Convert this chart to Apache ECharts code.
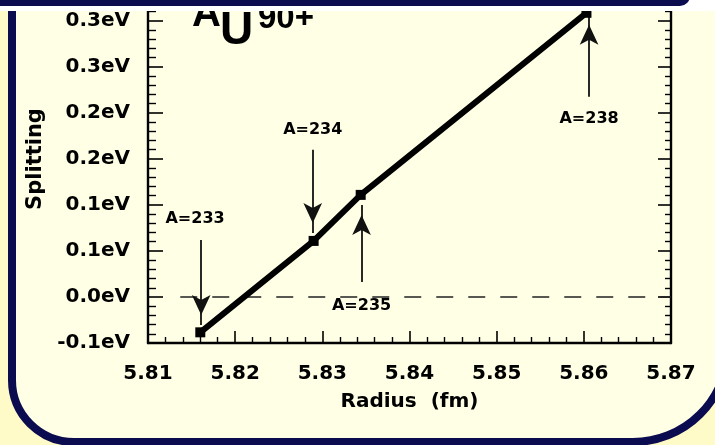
<!DOCTYPE html>
<html>
<head>
<meta charset="utf-8">
<script src="https://cdn.jsdelivr.net/npm/echarts@6/dist/echarts.min.js"></script>
<style>
html,body{margin:0;padding:0;background:#FFFBC8;}
#chart{width:715px;height:445px;}
</style>
</head>
<body>
<div id="chart"></div>
<script>
// Data
const radius = [5.816, 5.829, 5.8344, 5.8603];          // fm
const splitting = [-0.0384, 0.0609, 0.1109, 0.3087];   // eV
const zeroLineX = [5.8137, 5.87];
const zeroLineY = [0, 0];

const arrowNames = ['A=233', 'A=234', 'A=235', 'A=238'];
const arrowX = [5.8161, 5.8289, 5.8345, 5.8606];
const arrowFrom = [0.062, 0.1598, 0.0163, 0.2174];
const arrowTo = [-0.0304, 0.0696, 0.1, 0.3065];
const labelX = [5.8154, 5.8289, 5.8345, 5.8606];
const labelY = [0.0853, 0.1815, -0.0098, 0.1935];

const xTickLabels = ['5.81', '5.82', '5.83', '5.84', '5.85', '5.86', '5.87'];
const yTickLabels = ['-0.1eV', '0.0eV', '0.1eV', '0.1eV', '0.2eV', '0.2eV', '0.3eV', '0.3eV'];

const xMin = 5.81, xMax = 5.87, xStep = 0.01;
const yMin = -0.05, yMax = 0.315, yStep = 0.05;

function tickLabel(labels, min, step) {
  return function (v) {
    const i = Math.round((v - min) / step);
    if (Math.abs(v - (min + i * step)) > step * 1e-3) return '';
    return labels[i] !== undefined ? labels[i] : '';
  };
}

const navy = '#0B0B4F';
const tickFont = 'DejaVu Sans';

const chart = echarts.init(document.getElementById('chart'));
chart.setOption({
  backgroundColor: '#FFFBC8',
  animation: false,
  grid: { left: 148, right: 44, top: 7, bottom: 102, containLabel: false },
  xAxis: {
    type: 'value', min: xMin, max: xMax, interval: xStep,
    name: 'Radius  (fm)', nameLocation: 'middle', nameGap: 49,
    nameTextStyle: { fontFamily: tickFont, fontWeight: 'bold', fontSize: 20, color: '#000' },
    axisLine: { show: true, onZero: false, lineStyle: { color: '#000', width: 2.4 } },
    axisTick: { show: true, inside: true, length: 12, lineStyle: { color: '#000', width: 1.6 } },
    minorTick: { show: true, splitNumber: 5, length: 6, lineStyle: { color: '#000', width: 1.4 } },
    splitLine: { show: false },
    axisLabel: { formatter: tickLabel(xTickLabels, xMin, xStep), margin: 21,
      fontFamily: tickFont, fontWeight: 'bold', fontSize: 20, color: '#000' }
  },
  yAxis: [{
    type: 'value', min: yMin, max: yMax, interval: yStep, position: 'left',
    axisLine: { show: true, onZero: false, lineStyle: { color: '#000', width: 2.4 } },
    axisTick: { show: true, inside: true, length: 15, lineStyle: { color: '#000', width: 1.6 } },
    minorTick: { show: true, splitNumber: 5, length: 8, lineStyle: { color: '#000', width: 1.4 } },
    splitLine: { show: false },
    axisLabel: { formatter: tickLabel(yTickLabels, yMin, yStep), margin: 18,
      fontFamily: tickFont, fontWeight: 'bold', fontSize: 20, color: '#000' }
  }, {
    type: 'value', min: yMin, max: yMax, interval: yStep, position: 'right',
    axisLine: { show: true, onZero: false, lineStyle: { color: '#000', width: 2.4 } },
    axisTick: { show: true, inside: true, length: 13, lineStyle: { color: '#000', width: 1.6 } },
    minorTick: { show: true, splitNumber: 5, length: 6, lineStyle: { color: '#000', width: 1.4 } },
    splitLine: { show: false },
    axisLabel: { show: false }
  }],
  series: [{
    type: 'line', name: 'zero', silent: true, symbol: 'none', z: 1,
    data: zeroLineX.map((x, i) => [x, zeroLineY[i]]),
    lineStyle: { type: [17, 15], width: 1.4, color: '#222' }
  }, {
    type: 'line', name: 'Splitting', z: 5,
    data: radius.map((r, i) => [r, splitting[i]]),
    symbol: 'rect', symbolSize: 10,
    itemStyle: { color: '#000' },
    lineStyle: { color: '#000', width: 6 },
    markLine: {
      silent: true, symbol: ['none', 'arrow'], symbolSize: [14, 20],
      symbolOffset: [0, [0, '50%']],
      label: { show: false },
      lineStyle: { color: '#111', width: 1.8, type: 'solid' },
      data: arrowX.map((x, i) => [{ coord: [x, arrowFrom[i]] }, { coord: [x, arrowTo[i]] }])
    }
  }, {
    type: 'scatter', name: 'labels', silent: true, symbolSize: 0, z: 6,
    itemStyle: { opacity: 1 },
    data: labelX.map((x, i) => ({ value: [x, labelY[i]], name: arrowNames[i] })),
    label: { show: true, position: 'inside', formatter: p => p.name, opacity: 1,
      fontFamily: tickFont, fontWeight: 'bold', fontSize: 16, color: '#000' }
  }],
  graphic: [
    { type: 'rect', z: -10, shape: { x: 12, y: -60, width: 716, height: 502, r: [0, 0, 95, 62] },
      style: { fill: '#FFFFE6', stroke: navy, lineWidth: 8 } },
    { type: 'text', z: 99, x: 36, y: 159, rotation: Math.PI / 2,
      style: { text: 'Splitting', font: 'bold 21px "DejaVu Sans"', fill: '#000',
        align: 'center', verticalAlign: 'middle' } },
    { type: 'text', z: 99, x: 192, y: 15,
      style: { text: 'A', font: 'bold 40px "Liberation Sans"', fill: '#000', align: 'left', verticalAlign: 'middle' } },
    { type: 'text', z: 99, x: 220, y: 31,
      style: { text: 'U', font: 'bold 46px "Liberation Sans"', fill: '#000', align: 'left', verticalAlign: 'middle' } },
    { type: 'text', z: 99, x: 258, y: 19,
      style: { text: '90+', font: 'bold 33px "Liberation Sans"', fill: '#000', align: 'left', verticalAlign: 'middle' } },
    { type: 'rect', z: 100, shape: { x: 0, y: 0, width: 715, height: 11 }, style: { fill: '#FFFFFF' } },
    { type: 'rect', z: 101, shape: { x: -20, y: -40, width: 710, height: 46, r: 10 }, style: { fill: navy } }
  ]
});
</script>
</body>
</html>
